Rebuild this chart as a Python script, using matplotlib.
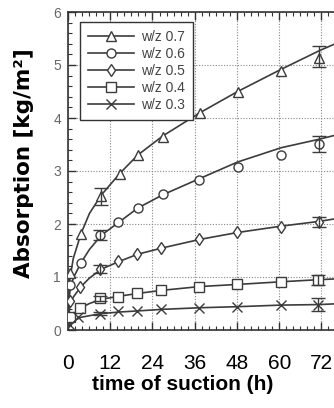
import matplotlib
matplotlib.use("Agg")
import matplotlib.pyplot as plt
from matplotlib.ticker import MultipleLocator

# ---- data ----
labels = ["w/z 0.7", "w/z 0.6", "w/z 0.5", "w/z 0.4", "w/z 0.3"]
markers = ["^", "o", "d", "s", "x"]

# measured points
t07 = [0.7, 3.7, 9.5, 14.8, 19.8, 26.9, 37.5, 48.2, 60.6, 71.4]
y07 = [1.07, 1.81, 2.52, 2.94, 3.30, 3.65, 4.09, 4.50, 4.89, 5.13]
t06 = [0.7, 3.7, 9.1, 14.3, 19.8, 26.9, 37.3, 48.2, 60.6, 71.4]
y06 = [0.85, 1.27, 1.79, 2.04, 2.30, 2.56, 2.83, 3.08, 3.30, 3.51]
t05 = [0.7, 3.4, 9.1, 14.3, 19.5, 26.5, 37.3, 48.1, 60.5, 71.3]
y05 = [0.55, 0.82, 1.15, 1.30, 1.43, 1.54, 1.71, 1.84, 1.95, 2.04]
t04 = [0.7, 3.4, 9.1, 14.3, 19.5, 26.5, 37.3, 48.1, 60.5, 71.1]
y04 = [0.25, 0.41, 0.60, 0.63, 0.69, 0.75, 0.82, 0.86, 0.91, 0.94]
t03 = [0.5, 2.7, 9.1, 14.3, 19.5, 26.5, 37.3, 48.0, 60.4, 71.1]
y03 = [0.10, 0.25, 0.31, 0.35, 0.36, 0.40, 0.42, 0.44, 0.47, 0.48]

# fitted curves
tc = [0, 0.5, 1.5, 3.7, 6.1, 9.5, 14.8, 19.8, 26.9, 37.5, 48.2, 60.6, 71.4, 78]
c07 = [0.10, 0.95, 1.35, 1.82, 2.20, 2.55, 2.96, 3.30, 3.66, 4.10, 4.50, 4.92, 5.27, 5.46]
c06 = [0.08, 0.72, 0.98, 1.27, 1.52, 1.79, 2.05, 2.30, 2.55, 2.86, 3.17, 3.44, 3.60, 3.71]
c05 = [0.06, 0.45, 0.62, 0.82, 0.98, 1.15, 1.30, 1.43, 1.55, 1.71, 1.84, 1.96, 2.05, 2.12]
c04 = [0.04, 0.20, 0.30, 0.42, 0.50, 0.58, 0.64, 0.69, 0.75, 0.82, 0.86, 0.91, 0.95, 0.97]
c03 = [0.02, 0.10, 0.17, 0.24, 0.27, 0.31, 0.34, 0.36, 0.39, 0.42, 0.44, 0.47, 0.48, 0.50]

# error bars (time, value, half-width)
err_t = [[9.5, 71.4], [9.1, 71.4], [9.1, 71.3], [9.1, 71.1], [9.1, 71.1]]
err_y = [[2.52, 5.16], [1.79, 3.51], [1.15, 2.04], [0.60, 0.94], [0.31, 0.48]]
err_e = [[0.16, 0.19], [0.10, 0.15], [0.08, 0.09], [0.05, 0.10], [0.03, 0.12]]

xticks = [0, 12, 24, 36, 48, 60, 72]
yticks = [0, 1, 2, 3, 4, 5, 6]

pts_t = [t07, t06, t05, t04, t03]
pts_y = [y07, y06, y05, y04, y03]
curves = [c07, c06, c05, c04, c03]

LC = "#3c3c3c"
PXH = 3.52      # pixels per hour
XMAX = 76.5

fig = plt.figure(figsize=(3.34, 4.08), dpi=100)
ax = fig.add_axes([68 / 334, 78 / 408, XMAX * PXH / 334, 318 / 408])

for i in range(5):
    ax.plot(tc, curves[i], color=LC, lw=1.2, zorder=3)
    ax.plot(pts_t[i], pts_y[i], ls="none", marker=markers[i], ms=6.5,
            mfc="white" if markers[i] != "x" else LC, mec=LC, mew=1.0, zorder=4)
    ax.errorbar(err_t[i], err_y[i], yerr=err_e[i], fmt="none", ecolor=LC,
                elinewidth=1.0, capsize=5, capthick=1.0, zorder=4)
    # legend proxy
    ax.plot([], [], color=LC, lw=1.2, marker=markers[i], ms=6.5,
            mfc="white" if markers[i] != "x" else LC, mec=LC, mew=1.0,
            label=labels[i])

ax.set_xlim(0, XMAX)
ax.set_ylim(0, 6)
ax.set_xticks(xticks)
ax.set_yticks(yticks)
ax.xaxis.set_minor_locator(MultipleLocator(2))
ax.yaxis.set_minor_locator(MultipleLocator(0.2))
ax.tick_params(axis="both", which="both", direction="in", top=True, right=False,
               color="#333333")
ax.tick_params(which="major", length=6, width=1)
ax.tick_params(which="minor", length=3, width=0.8)
ax.tick_params(axis="x", which="major", pad=17, labelsize=15, labelcolor="black")
ax.tick_params(axis="y", which="major", pad=5, labelsize=10, labelcolor="#666666")
for lab in ax.get_xticklabels() + ax.get_yticklabels():
    lab.set_family("Liberation Sans")

ax.grid(True, which="major", ls=(0, (1, 1.5)), color="#888888", lw=0.8)
for s in ax.spines.values():
    s.set_color("#333333")
    s.set_linewidth(1.2)

leg = ax.legend(loc="upper left", bbox_to_anchor=(0.045, 0.967), borderaxespad=0,
                frameon=True, fancybox=False, framealpha=1, edgecolor="#333333",
                prop={"family": "Liberation Sans", "size": 10},
                handlelength=3.3, labelspacing=0.22, handletextpad=0.55,
                borderpad=0.55)
leg.get_frame().set_linewidth(1.0)
for txt in leg.get_texts():
    txt.set_color("#444444")

fig.text(183 / 334, 1 - 385 / 408, "time of suction (h)", ha="center", va="center",
         fontsize=15, fontweight="bold", family="Liberation Sans")
fig.text(24 / 334, 1 - 163 / 408, "Absorption [kg/m²]", ha="center", va="center",
         rotation=90, fontsize=15.5, fontweight="bold", family="DejaVu Sans")

fig.savefig("out.png", dpi=100)
